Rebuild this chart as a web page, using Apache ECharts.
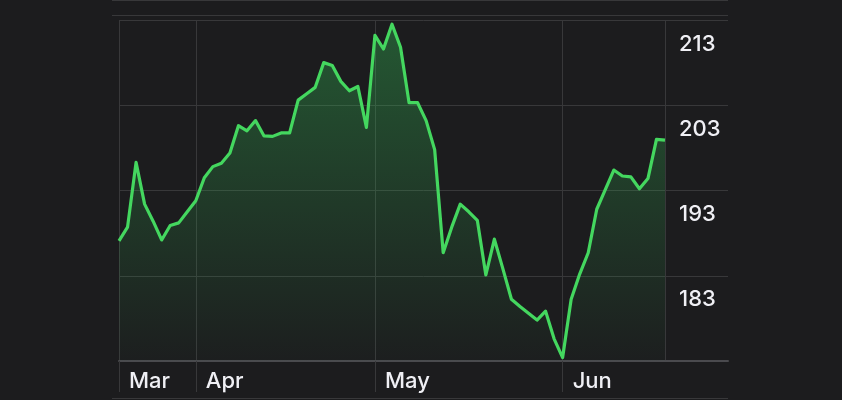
<!DOCTYPE html>
<html>
<head>
<meta charset="utf-8">
<script src="https://cdn.jsdelivr.net/npm/echarts@6/dist/echarts.min.js"></script>
<style>
  html, body { margin: 0; padding: 0; background: #1c1c1e; }
  #chart { width: 842px; height: 400px; }
</style>
</head>
<body>
<div id="chart"></div>
<script>
const dates = [
  '2019-03-19','2019-03-20','2019-03-21','2019-03-22','2019-03-25','2019-03-26','2019-03-27','2019-03-28','2019-03-29',
  '2019-04-01','2019-04-02','2019-04-03','2019-04-04','2019-04-05','2019-04-08','2019-04-09','2019-04-10','2019-04-11','2019-04-12',
  '2019-04-15','2019-04-16','2019-04-17','2019-04-18','2019-04-22','2019-04-23','2019-04-24','2019-04-25','2019-04-26','2019-04-29','2019-04-30',
  '2019-05-01','2019-05-02','2019-05-03','2019-05-06','2019-05-07','2019-05-08','2019-05-09','2019-05-10','2019-05-13','2019-05-14',
  '2019-05-15','2019-05-16','2019-05-17','2019-05-20','2019-05-21','2019-05-22','2019-05-23','2019-05-24','2019-05-28','2019-05-29',
  '2019-05-30','2019-05-31',
  '2019-06-03','2019-06-04','2019-06-05','2019-06-06','2019-06-07','2019-06-10','2019-06-11','2019-06-12','2019-06-13','2019-06-14',
  '2019-06-17','2019-06-18','2019-06-19'
];
const closes = [
  187.1, 188.7, 196.3, 191.4, 189.4, 187.2, 188.9, 189.2, 190.5,
  191.8, 194.5, 195.8, 196.2, 197.4, 200.6, 200.0, 201.2, 199.4, 199.35,
  199.75, 199.75, 203.6, 204.35, 205.1, 208.0, 207.65, 205.8, 204.7, 205.2, 200.4,
  211.2, 209.6, 212.5, 209.8, 203.3, 203.3, 201.2, 197.8, 185.7, 188.7,
  191.4, 190.5, 189.5, 183.1, 187.3, 183.8, 180.25, 179.4, 178.6, 177.8,
  178.85, 175.6,
  173.4, 180.25, 183.2, 185.7, 190.8, 193.1, 195.4, 194.7, 194.6, 193.2,
  194.4, 199.0, 198.9
];
const yMin = 173, yMax = 213, yStep = 10;
const yTickLabels = ['183', '193', '203', '213'];
const monthNames = ['Jan','Feb','Mar','Apr','May','Jun','Jul','Aug','Sep','Oct','Nov','Dec'];

// indices where a month label / divider appears (first point, and each month change)
const monthIdx = dates.map((d, i) => (i === 0 || d.slice(5, 7) !== dates[i - 1].slice(5, 7)) ? i : -1).filter(i => i >= 0);
const lastIdx = dates.length - 1;

const gridCol = '#38383a';
const textCol = '#f0f0f5';
const font = 'Inter, "Noto Sans", sans-serif';

const chart = echarts.init(document.getElementById('chart'), null, { renderer: 'canvas' });
chart.setOption({
  backgroundColor: '#1c1c1e',
  animation: false,
  grid: [
    { left: 119, width: 546, top: 20, bottom: 39 },
    { left: 119, right: 114, top: 20, bottom: 39 }
  ],
  xAxis: [
    {
      gridIndex: 0, type: 'category', data: dates, boundaryGap: false,
      axisLine: { show: false },
      axisTick: {
        show: true, inside: false, length: 31,
        interval: (i) => monthIdx.includes(i),
        lineStyle: { color: gridCol, width: 1 }
      },
      splitLine: {
        show: true,
        interval: (i) => monthIdx.includes(i) || i === lastIdx,
        lineStyle: { color: gridCol, width: 1 }
      },
      axisLabel: {
        show: true,
        interval: (i) => monthIdx.includes(i),
        formatter: (v) => monthNames[parseInt(v.slice(5, 7), 10) - 1],
        align: 'left', padding: [0, 0, 0, 10], margin: 9,
        color: textCol, fontSize: 22, fontWeight: 500, fontFamily: font
      }
    },
    {
      gridIndex: 1, type: 'value', min: 0, max: 1,
      axisLine: { show: true, lineStyle: { color: '#4a4a4e', width: 2 } },
      axisTick: { show: false }, axisLabel: { show: false }, splitLine: { show: false }
    }
  ],
  yAxis: [
    {
      gridIndex: 0, type: 'value', position: 'right', min: yMin, max: yMax, interval: yStep,
      axisLine: { show: false }, axisTick: { show: false }, splitLine: { show: false },
      axisLabel: {
        show: true, margin: 14,
        formatter: (v) => yTickLabels.includes(String(v)) ? String(v) : '',
        verticalAlign: 'top', padding: [13, 0, 0, 0],
        color: textCol, fontSize: 22, fontWeight: 500, fontFamily: font
      }
    },
    {
      gridIndex: 1, type: 'value', min: yMin, max: yMax, interval: yStep,
      axisLine: { show: false }, axisTick: { show: false }, axisLabel: { show: false },
      splitLine: { show: true, lineStyle: { color: gridCol, width: 1 } }
    }
  ],
  graphic: [
    { type: 'line', shape: { x1: 112, y1: 0.5, x2: 728, y2: 0.5 }, style: { stroke: gridCol, lineWidth: 1 } },
    { type: 'line', shape: { x1: 112, y1: 15.5, x2: 728, y2: 15.5 }, style: { stroke: gridCol, lineWidth: 1 } },
    { type: 'line', shape: { x1: 112, y1: 398.5, x2: 728, y2: 398.5 }, style: { stroke: gridCol, lineWidth: 1 } }
  ],
  series: [
    {
      type: 'line', xAxisIndex: 0, yAxisIndex: 0, data: closes,
      symbol: 'none', smooth: false,
      lineStyle: { color: '#44d75f', width: 3.2, join: 'round' },
      areaStyle: {
        origin: 'start',
        color: new echarts.graphic.LinearGradient(0, 0, 0, 1, [
          { offset: 0, color: 'rgba(52,199,89,0.50)' },
          { offset: 0.5, color: 'rgba(52,199,89,0.26)' },
          { offset: 1, color: 'rgba(52,199,89,0.02)' }
        ])
      },
      z: 5
    }
  ]
});
</script>
</body>
</html>
